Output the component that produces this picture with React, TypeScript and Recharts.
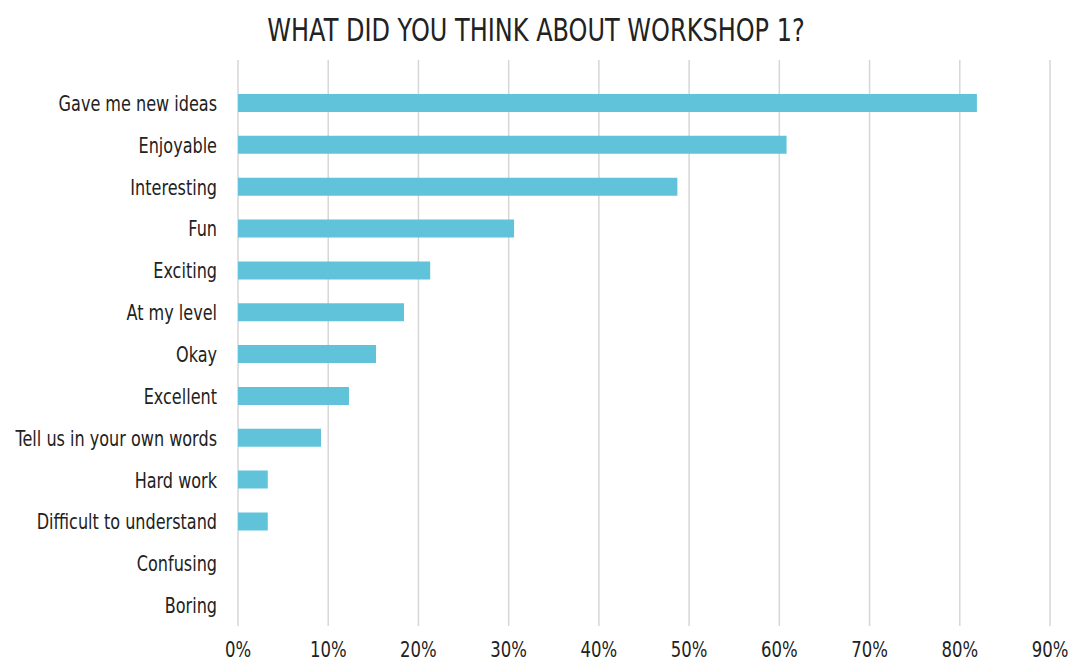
import { BarChart, Bar, XAxis, YAxis, CartesianGrid } from 'recharts'

const CATEGORIES = [
  'Gave me new ideas',
  'Enjoyable',
  'Interesting',
  'Fun',
  'Exciting',
  'At my level',
  'Okay',
  'Excellent',
  'Tell us in your own words',
  'Hard work',
  'Difficult to understand',
  'Confusing',
  'Boring',
]

const PERCENTAGES = [81.9, 60.8, 48.7, 30.6, 21.3, 18.4, 15.3, 12.3, 9.2, 3.3, 3.3, 0, 0]

const X_TICKS = [0, 10, 20, 30, 40, 50, 60, 70, 80, 90]

const FONT = "'DejaVu Sans', sans-serif"
const BAR_COLOR = '#60C3D9'
const TEXT_COLOR = '#222'

const data = CATEGORIES.map((name, i) => ({ name, value: PERCENTAGES[i] }))

// no condensed font installed, so squeeze the glyphs horizontally
function CategoryTick(props: any) {
  const { x, y, payload } = props
  return (
    <g transform={`translate(${x},${y})`}>
      <text x={0} y={0} dy={8} transform="scale(0.73,1)" textAnchor="end" fontSize={22} fontFamily={FONT} fill={TEXT_COLOR}>
        {payload.value}
      </text>
    </g>
  )
}

function PercentTick(props: any) {
  const { x, y, payload } = props
  return (
    <g transform={`translate(${x},${y})`}>
      <text x={0} y={0} dy={17} transform="scale(0.75,1)" textAnchor="middle" fontSize={22} fontFamily={FONT} fill={TEXT_COLOR}>
        {`${payload.value}%`}
      </text>
    </g>
  )
}

export default function App() {
  return (
    <div style={{ position: 'absolute', left: 0, top: 0, width: 1072, height: 661, background: '#fff', fontFamily: FONT }}>
      <div
        style={{
          position: 'absolute',
          top: 11,
          left: 0,
          width: 1072,
          textAlign: 'center',
          fontSize: 32,
          color: TEXT_COLOR,
          transform: 'scaleX(0.75)',
          transformOrigin: '536px 0',
          whiteSpace: 'nowrap',
        }}
      >
        WHAT DID YOU THINK ABOUT WORKSHOP 1?
      </div>
      <BarChart
        width={1072}
        height={661}
        data={data}
        layout="vertical"
        margin={{ top: 60, right: 22, bottom: 0, left: 0 }}
        barSize={18}
      >
        <CartesianGrid horizontal={false} stroke="#d6d6d6" strokeWidth={1.5} />
        <XAxis
          type="number"
          domain={[0, 90]}
          ticks={X_TICKS}
          axisLine={false}
          tickLine={false}
          tickMargin={8}
          height={35}
          interval={0}
          tick={(p: any) => <PercentTick {...p} />}
        />
        <YAxis
          type="category"
          dataKey="name"
          width={238}
          axisLine={false}
          tickLine={false}
          tickMargin={15}
          interval={0}
          padding={{ top: 22, bottom: 0 }}
          tick={(p: any) => <CategoryTick {...p} />}
        />
        <Bar dataKey="value" fill={BAR_COLOR} isAnimationActive={false} />
      </BarChart>
    </div>
  )
}
